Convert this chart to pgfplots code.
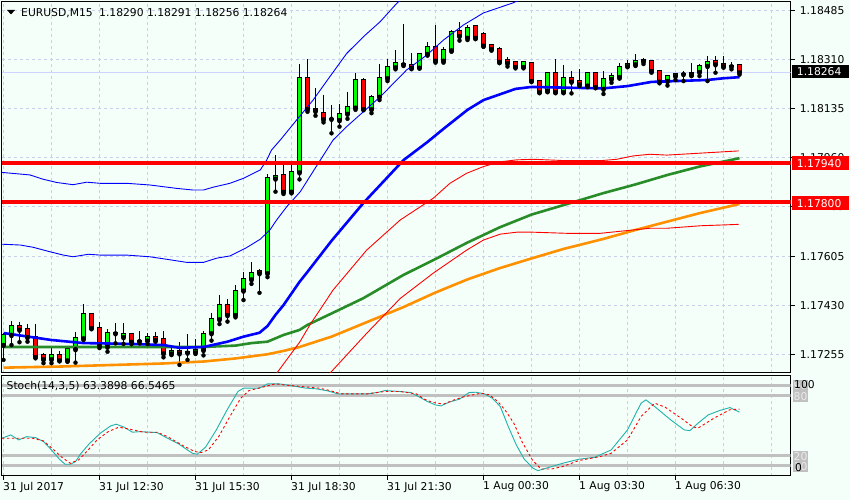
\documentclass[border=0pt]{standalone}
\usepackage{pgfplots}
\pgfplotsset{compat=1.18}
\usepackage{pgfplotstable}
\usepackage{fontspec}
\setmainfont{DejaVu Sans}

\definecolor{bgc}{RGB}{245,255,249}
\definecolor{gridc}{RGB}{200,208,236}
\definecolor{bullc}{RGB}{0,255,0}
\definecolor{bearc}{RGB}{255,0,0}
\definecolor{mablue}{RGB}{0,0,255}
\definecolor{magreen}{RGB}{40,140,40}
\definecolor{maorange}{RGB}{255,145,0}
\definecolor{stochk}{RGB}{32,178,170}
\definecolor{levelc}{RGB}{192,192,192}
\definecolor{bidc}{RGB}{205,212,255}

\pgfplotstableread{
i O H L C
0 1.17288 1.17331 1.17235 1.17324
1 1.17324 1.17375 1.17288 1.17357
6 1.17237 1.17276 1.17223 1.17251
8 1.17233 1.17286 1.17228 1.17273
9 1.17273 1.17335 1.17225 1.17312
10 1.17312 1.17435 1.17306 1.17398
13 1.17282 1.17344 1.17264 1.17330
14 1.17330 1.17368 1.17294 1.17331
15 1.17316 1.17366 1.17292 1.17327
17 1.17302 1.17338 1.17294 1.17303
18 1.17304 1.17332 1.17292 1.17316
21 1.17258 1.17282 1.17252 1.17267
23 1.17261 1.17327 1.17235 1.17262
24 1.17262 1.17309 1.17256 1.17270
25 1.17270 1.17339 1.17251 1.17327
26 1.17330 1.17402 1.17304 1.17380
27 1.17380 1.17467 1.17363 1.17430
29 1.17395 1.17503 1.17387 1.17483
30 1.17483 1.17548 1.17449 1.17523
31 1.17523 1.17584 1.17507 1.17547
33 1.17545 1.17899 1.17531 1.17885
34 1.17884 1.17968 1.17837 1.17893
36 1.17837 1.17944 1.17831 1.17906
37 1.17906 1.18294 1.17881 1.18243
41 1.18098 1.18146 1.18046 1.18099
42 1.18093 1.18150 1.18070 1.18114
43 1.18116 1.18194 1.18098 1.18141
44 1.18138 1.18263 1.18130 1.18237
46 1.18132 1.18183 1.18118 1.18177
47 1.18177 1.18293 1.18165 1.18243
48 1.18243 1.18311 1.18233 1.18282
49 1.18282 1.18344 1.18275 1.18297
50 1.18293 1.18437 1.18287 1.18294
52 1.18281 1.18334 1.18279 1.18330
53 1.18330 1.18374 1.18324 1.18354
55 1.18306 1.18356 1.18299 1.18343
56 1.18343 1.18416 1.18338 1.18408
58 1.18388 1.18434 1.18380 1.18422
65 1.18282 1.18302 1.18282 1.18300
68 1.18198 1.18263 1.18193 1.18261
70 1.18193 1.18291 1.18191 1.18243
73 1.18217 1.18267 1.18211 1.18261
75 1.18205 1.18268 1.18187 1.18239
76 1.18240 1.18261 1.18227 1.18250
77 1.18247 1.18297 1.18242 1.18285
78 1.18286 1.18309 1.18285 1.18293
79 1.18293 1.18330 1.18287 1.18306
83 1.18233 1.18255 1.18217 1.18252
84 1.18251 1.18263 1.18237 1.18258
85 1.18258 1.18269 1.18233 1.18259
86 1.18255 1.18297 1.18251 1.18263
87 1.18265 1.18294 1.18251 1.18287
88 1.18287 1.18324 1.18233 1.18302
91 1.18286 1.18301 1.18275 1.18287
}\bulltab

\pgfplotstableread{
i O H L C
2 1.17355 1.17372 1.17298 1.17343
3 1.17344 1.17363 1.17300 1.17316
4 1.17318 1.17363 1.17244 1.17244
5 1.17251 1.17258 1.17223 1.17237
7 1.17251 1.17268 1.17231 1.17233
11 1.17398 1.17404 1.17346 1.17348
12 1.17350 1.17369 1.17277 1.17285
16 1.17327 1.17332 1.17291 1.17300
19 1.17318 1.17336 1.17300 1.17306
20 1.17309 1.17338 1.17244 1.17258
22 1.17267 1.17300 1.17217 1.17258
28 1.17430 1.17453 1.17372 1.17395
32 1.17552 1.17561 1.17475 1.17545
35 1.17897 1.17939 1.17829 1.17837
38 1.18243 1.18311 1.18123 1.18132
39 1.18133 1.18207 1.18109 1.18126
40 1.18118 1.18183 1.18085 1.18096
45 1.18237 1.18243 1.18130 1.18132
51 1.18291 1.18332 1.18279 1.18279
54 1.18354 1.18434 1.18299 1.18306
57 1.18411 1.18446 1.18378 1.18394
59 1.18430 1.18434 1.18383 1.18388
60 1.18400 1.18408 1.18356 1.18360
61 1.18362 1.18364 1.18342 1.18347
62 1.18347 1.18356 1.18297 1.18302
63 1.18309 1.18320 1.18285 1.18297
64 1.18300 1.18302 1.18282 1.18282
66 1.18299 1.18302 1.18231 1.18233
67 1.18233 1.18237 1.18191 1.18193
69 1.18261 1.18312 1.18191 1.18193
71 1.18243 1.18270 1.18189 1.18231
72 1.18233 1.18276 1.18215 1.18221
74 1.18263 1.18266 1.18208 1.18211
80 1.18310 1.18315 1.18294 1.18304
81 1.18304 1.18306 1.18263 1.18269
82 1.18269 1.18273 1.18225 1.18231
89 1.18304 1.18324 1.18263 1.18293
90 1.18293 1.18324 1.18281 1.18286
92 1.18290 1.18291 1.18256 1.18264
}\beartab

\pgfplotsset{
  candle/.style={only marks, mark=none, forget plot,
    error bars/.cd, y dir=plus, y explicit, error mark=none,
    error bar style={draw=#1}},
}

\begin{document}
\begin{tikzpicture}
\useasboundingbox (0,0) rectangle (850bp,500bp);
\fill[bgc] (0,0) rectangle (850bp,500bp);

% ---------------- main price panel ----------------
\begin{axis}[
  at={(2bp,127bp)}, anchor=south west,
  scale only axis, width=788.7bp, height=371.5bp,
  xmin=-0.1875, xmax=98.4,
  ymin=1.171879, ymax=1.185179,
  axis line style={black, line width=1bp},
  xtick={0,6,...,96}, xticklabels={}, xtick style={draw=none},
  ytick={1.17255,1.17430,1.17605,1.17785,1.17960,1.18135,1.18310,1.18485},
  yticklabels={1.17255,1.17430,1.17605,1.17785,1.17960,1.18135,1.18310,1.18485},
  ytick pos=right, yticklabel pos=right,
  tick align=outside, major tick length=4bp,
  ytick style={black, line width=0.8bp},
  scaled y ticks=false,
  tick label style={font=\fontsize{10.8}{12}\selectfont, black},
  yticklabel style={anchor=west, inner sep=0pt, xshift=5bp},
  xmajorgrids, ymajorgrids,
  grid style={gridc, dash pattern=on 3bp off 3bp, line width=0.8bp},
]
% bid line
\addplot[bidc, line width=1bp, forget plot] coordinates {(-0.2,1.18264) (98.4,1.18264)};

% wicks
\addplot[candle={black, line width=1bp}] table[x=i, y=L, y error plus expr=\thisrow{H}-\thisrow{L}] {\bulltab};
\addplot[candle={black, line width=1bp}] table[x=i, y=L, y error plus expr=\thisrow{H}-\thisrow{L}] {\beartab};
% bodies: outline then fill
\addplot[candle={black, line width=5bp}] table[x=i, y expr=\thisrow{O}-0.0000358, y error plus expr=\thisrow{C}-\thisrow{O}+0.0000716] {\bulltab};
\addplot[candle={bullc, line width=3bp}] table[x=i, y=O, y error plus expr=\thisrow{C}-\thisrow{O}] {\bulltab};
\addplot[candle={black, line width=5bp}] table[x=i, y expr=\thisrow{C}-0.0000358, y error plus expr=\thisrow{O}-\thisrow{C}+0.0000716] {\beartab};
\addplot[candle={bearc, line width=3bp}] table[x=i, y=C, y error plus expr=\thisrow{O}-\thisrow{C}] {\beartab};

% orange MA
\addplot[maorange, line width=2.6bp] coordinates {
(0,1.17207) (7,1.17211) (20,1.17222) (25,1.17229) (29,1.17240) (33,1.17255) (35,1.17267) (37,1.17281) (41,1.17318) (45,1.17365) (50,1.17424) (54,1.17476) (58,1.17523) (62,1.17563) (66,1.17598) (70,1.17632) (75,1.17668) (79,1.17700) (83,1.17730) (87,1.17760) (92,1.17793)};
% green MA
\addplot[magreen, line width=2.6bp] coordinates {
(0,1.17281) (25,1.17281) (29,1.17286) (31,1.17295) (33,1.17300) (35,1.17324) (37,1.17342) (38,1.17360) (41,1.17401) (45,1.17456) (50,1.17539) (54,1.17596) (58,1.17655) (62,1.17709) (66,1.17755) (70,1.17789) (75,1.17832) (79,1.17863) (83,1.17897) (87,1.17927) (92,1.17957)};
% red envelope lines
\addplot[red, line width=0.9bp] coordinates {
(33.8,1.17175) (34.15,1.17187) (37.06,1.17300) (38.3,1.17360) (41.2,1.17485) (45.4,1.17628) (49.6,1.17736) (53.7,1.17813) (55.8,1.17867) (57.9,1.17903) (60,1.17927) (62.1,1.17944) (64.15,1.17951) (66.2,1.17953) (70.4,1.17948) (74.6,1.17948) (76.65,1.17953) (78.7,1.17965) (80.8,1.17971) (82.9,1.17968) (87.1,1.17975) (91.9,1.17983)};
\addplot[red, line width=0.9bp] coordinates {
(40.5,1.17175) (40.8,1.17187) (45.4,1.17330) (49.6,1.17455) (53.7,1.17545) (57.9,1.17628) (60,1.17664) (62.1,1.17685) (64.15,1.17692) (66.2,1.17692) (70.4,1.17688) (74.6,1.17688) (78.7,1.17700) (80.8,1.17706) (82.9,1.17706) (87.1,1.17715) (91.9,1.17720)};
% blue bands
\addplot[mablue, line width=0.9bp] coordinates {
(-0.2,1.17906) (3.3,1.17897) (4.9,1.17882) (6.65,1.17870) (8.7,1.17862) (10.4,1.17871) (12.1,1.17867) (15.4,1.17867) (18.3,1.17861) (21.6,1.17849) (23.7,1.17843) (25,1.17843) (26.2,1.17853) (28.3,1.17867) (30,1.17885) (32.1,1.17915) (32.9,1.17950) (33.5,1.17986) (34.6,1.18022) (36.65,1.18094) (38.7,1.18165) (40.8,1.18249) (42.9,1.18332) (45,1.18392) (47.1,1.18446) (49.15,1.18511) (50.8,1.18552)};
\addplot[mablue, line width=0.9bp] coordinates {
(-0.2,1.17649) (2.1,1.17646) (3.7,1.17638) (5.8,1.17622) (7.5,1.17610) (8.7,1.17604) (10.6,1.17613) (12.1,1.17610) (15.4,1.17610) (18.3,1.17604) (20.4,1.17595) (22.9,1.17584) (25,1.17584) (26.65,1.17599) (28.3,1.17607) (30.4,1.17637) (32.1,1.17667) (33.3,1.17700) (34.15,1.17736) (35.4,1.17783) (37.1,1.17837) (39,1.17923) (41.2,1.18022) (42.9,1.18070) (47.1,1.18177) (50.4,1.18273) (52.9,1.18326) (55,1.18380) (57.5,1.18434) (60,1.18477) (63.7,1.18513) (65.8,1.18541)};
% blue thick MA
\addplot[mablue, line width=2.6bp] coordinates {
(0,1.17331) (6,1.17306) (10,1.17295) (16,1.17292) (20,1.17288) (22,1.17278) (25,1.17281) (28,1.17300) (30,1.17318) (32,1.17332) (33,1.17356) (34,1.17396) (35,1.17431) (37,1.17514) (38,1.17550) (41,1.17661) (45,1.17797) (50,1.17950) (53,1.18015) (55,1.18062) (58,1.18130) (60,1.18165) (64,1.18205) (66,1.18212) (71,1.18209) (75,1.18207) (78,1.18215) (81,1.18230) (84,1.18233) (88,1.18237) (90,1.18243) (92,1.18247)};
% horizontal levels
\addplot[red, line width=4bp] coordinates {(-0.2,1.17940) (98.4,1.17940)};
\addplot[red, line width=4bp] coordinates {(-0.2,1.17800) (98.4,1.17800)};
\end{axis}

% ---------------- stochastic panel ----------------
\begin{axis}[
  at={(2bp,24.3bp)}, anchor=south west,
  scale only axis, width=788.7bp, height=100.2bp,
  xmin=-0.1875, xmax=98.4, ymin=0, ymax=100,
  axis line style={black, line width=1bp},
  ytick=\empty,
  xtick={0,12,...,84},
  xticklabels={31 Jul 2017,31 Jul 12:30,31 Jul 15:30,31 Jul 18:30,31 Jul 21:30,1 Aug 00:30,1 Aug 03:30,1 Aug 06:30},
  minor xtick={6,18,30,42,54,66,78,90,96},
  xmajorgrids, xminorgrids,
  grid style={gridc, dash pattern=on 3bp off 3bp, line width=0.8bp},
  minor grid style={gridc, dash pattern=on 3bp off 3bp, line width=0.8bp},
  xtick pos=left, tick align=outside, major tick length=4bp, minor tick length=0pt,
  xtick style={black, line width=0.8bp},
  tick label style={font=\fontsize{10.8}{12}\selectfont, black},
  xticklabel style={anchor=north west, inner sep=0pt, xshift=-0.5bp, yshift=-2bp},
]
\addplot[levelc, line width=3.2bp] coordinates {(-0.2,90) (98.4,90)};
\addplot[levelc, line width=3.2bp] coordinates {(-0.2,80) (98.4,80)};
\addplot[levelc, line width=3.2bp] coordinates {(-0.2,20) (98.4,20)};
\addplot[levelc, line width=3.2bp] coordinates {(-0.2,10) (98.4,10)};
% %K
\addplot[stochk, line width=0.9bp] coordinates {
(-0.2,37.4) (0.9,40.7) (1.9,35.7) (2.9,39.0) (4.0,38.0) (5.0,34.1) (6.0,25.7) (7.0,16.4) (7.7,11.4) (8.35,11.4) (9.0,14.0) (9.7,22.4) (10.7,31.7) (12.1,42.4) (13.4,49.7) (14.1,51.4) (15.1,48.4) (16.1,43.4) (17.1,44.0) (19.2,43.0) (20.5,37.4) (21.9,31.7) (23.6,22.4) (24.2,21.4) (25.25,28.4) (26.6,45.7) (27.95,65.7) (29.3,84.0) (30.0,87.4) (32.0,87.4) (33.0,91.7) (34.4,91.7) (35.4,90.6) (37.8,87.4) (39.1,86.7) (40.5,84.7) (41.8,81.7) (45.5,81.7) (46.9,83.3) (47.7,85.0) (49.6,84.0) (50.9,83.0) (52.0,78.4) (53.0,74.0) (54.0,70.6) (54.7,69.7) (55.7,73.4) (57.0,76.4) (58.2,83.0) (59.05,83.3) (60.1,81.7) (61.1,77.4) (62.1,69.0) (63.1,49.0) (64.1,30.7) (65.1,16.4) (66.2,7.4) (66.8,5.0) (67.8,7.4) (69.9,12.4) (71.9,16.4) (73.9,18.4) (75.95,25.7) (78.0,45.7) (79.7,72.4) (80.3,75.7) (81.4,69.0) (83.4,55.7) (85.1,45.7) (85.8,45.0) (86.8,52.3) (88.1,60.7) (89.5,65.0) (90.8,68.0) (92,63.4)};
% %D
\addplot[red, line width=0.9bp, dash pattern=on 2.5bp off 2.5bp] coordinates {
(-0.2,37.4) (3.6,37.4) (5.0,34.7) (6.3,25.7) (7.3,18.4) (8.35,12.4) (9.4,15.8) (10.4,24.1) (11.7,35.7) (13.1,44.0) (14.4,48.4) (15.8,46.4) (17.5,43.4) (19.2,43.4) (20.5,39.0) (22.5,29.7) (23.9,24.1) (24.7,23.1) (25.6,25.7) (26.9,39.0) (28.3,59.1) (29.65,77.3) (30.7,85.0) (32.7,89.0) (34.0,91.7) (35.05,90.6) (39.45,87.4) (40.8,85.0) (42.15,81.7) (45.5,81.7) (47.6,84.0) (49.6,84.0) (51.6,81.7) (52.6,76.4) (53.65,73.1) (55.0,71.4) (56.35,75.7) (57.7,79.1) (59.7,82.3) (60.75,80.7) (61.8,74.0) (62.8,64.4) (63.8,52.3) (64.8,34.1) (66.15,15.1) (67.2,6.7) (68.5,6.7) (69.9,9.1) (71.9,15.1) (74.6,19.1) (75.95,22.4) (78.0,35.7) (79.7,59.1) (81.4,72.4) (82.7,68.4) (84.7,57.4) (86.1,49.0) (86.8,47.4) (88.8,57.4) (90.8,65.8) (92,66.5)};
\end{axis}

% ---------------- texts and price boxes ----------------
\begin{scope}[font=\fontsize{10.8}{12}\selectfont]
\fill[black] (7bp,490bp) -- (15bp,490bp) -- (11bp,485.5bp) -- cycle;
\node[anchor=base west, inner sep=0pt] at (21bp,483.2bp) {EURUSD,M15\hspace{0.6em}1.18290 1.18291 1.18256 1.18264};
\node[anchor=base west, inner sep=0pt] at (6.5bp,110bp) {Stoch(14,3,5) 63.3898 66.5465};

\fill[black] (791.5bp,421.5bp) rectangle (848.5bp,434.5bp);
\node[anchor=west, inner sep=0pt, white] at (796.7bp,428bp) {1.18264};
\fill[red] (791.5bp,329.5bp) rectangle (848.5bp,343.5bp);
\node[anchor=west, inner sep=0pt, white] at (796.7bp,336.5bp) {1.17940};
\fill[red] (791.5bp,290bp) rectangle (848.5bp,303.5bp);
\node[anchor=west, inner sep=0pt, white] at (796.7bp,296.8bp) {1.17800};

\fill[levelc] (792.5bp,109bp) rectangle (807.5bp,120bp);
\fill[levelc] (792.5bp,98.3bp) rectangle (807.5bp,109bp);
\fill[levelc] (792.5bp,38.3bp) rectangle (807.5bp,49bp);
\fill[levelc] (792.5bp,27.7bp) rectangle (807.5bp,38.3bp);
\node[anchor=west, inner sep=0pt, white!92!black] at (793.5bp,114.5bp) {90};
\node[anchor=west, inner sep=0pt, white!92!black] at (793.5bp,103.7bp) {80};
\node[anchor=west, inner sep=0pt, white!92!black] at (793.5bp,43.7bp) {20};
\node[anchor=west, inner sep=0pt, white!92!black] at (793.5bp,33bp) {10};
\node[anchor=west, inner sep=0pt, black] at (794bp,115bp) {100};
\node[anchor=west, inner sep=0pt, black] at (795bp,32bp) {0};
\end{scope}
\end{tikzpicture}
\end{document}
